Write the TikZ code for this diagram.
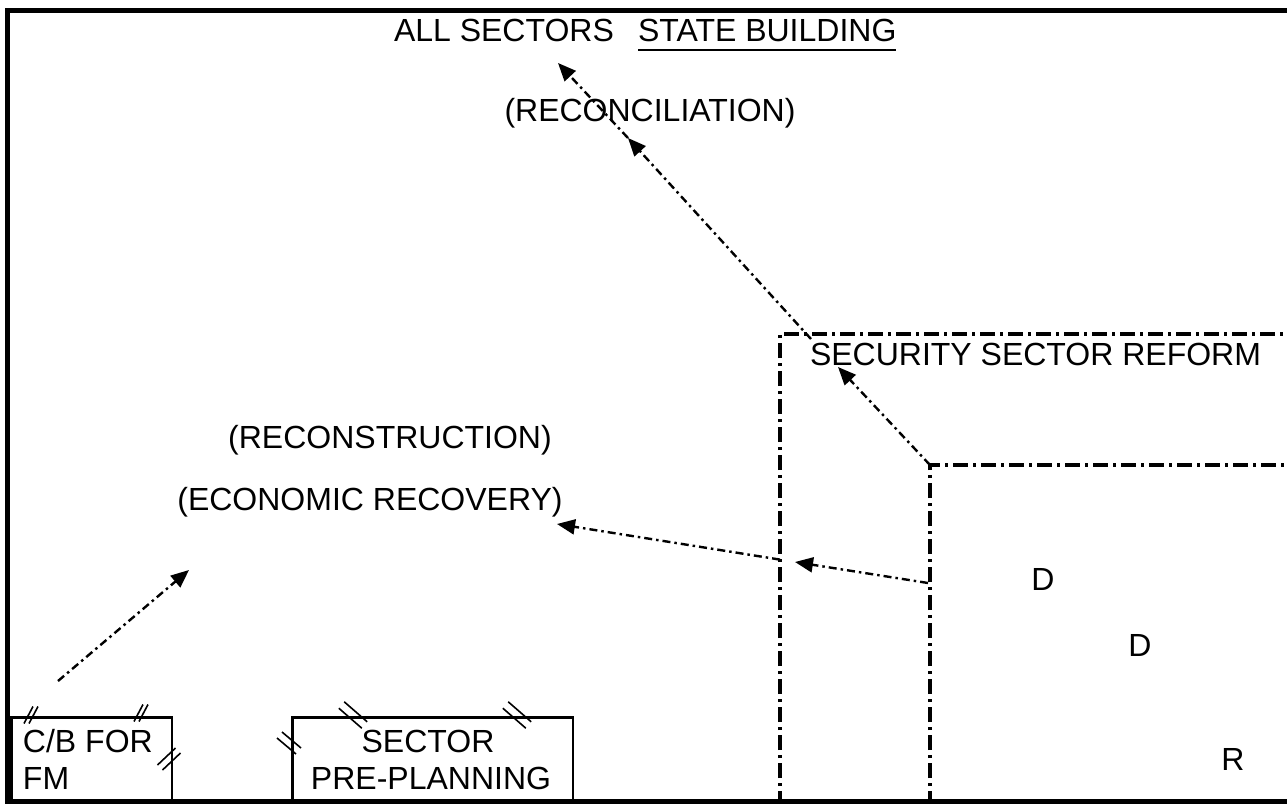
\documentclass[tikz,border=0pt]{standalone}
\usepackage{fontspec}
\setmainfont{Liberation Sans}
\usetikzlibrary{arrows.meta}
\tikzset{
  txt/.style={font=\fontsize{32}{38}\selectfont, inner sep=0pt, outer sep=0pt},
  frame/.style={line width=5pt},
  boxline/.style={draw, line width=2.5pt, inner sep=0pt},
  ssr/.style={line width=3.5pt, dash pattern=on 15pt off 5pt on 3pt off 5pt},
  flow/.style={line width=2.4pt, dash pattern=on 8pt off 4pt on 2.5pt off 4pt, -{Triangle[length=18pt,width=15pt]}},
  hashline/.style={line width=1.6pt},
}
\newcommand\hashmark[6]{%
  \draw[hashline] ({#1-#3-#5},{#2-#4-#6}) -- ({#1+#3-#5},{#2+#4-#6});
  \draw[hashline] ({#1-#3+#5},{#2-#4+#6}) -- ({#1+#3+#5},{#2+#4+#6});
}
\begin{document}
\begin{tikzpicture}[x=1pt,y=-1pt]
\useasboundingbox (0,0) rectangle (1287,803);
\fill[white] (0,0) rectangle (1287,803);
% outer frame
\draw[frame] (1295,10) -- (7.5,10) -- (7.5,801) -- (1295,801);

% title
\node[txt, anchor=base west] (all) at (394,41.5) {ALL SECTORS};
\node[txt, anchor=base west] (sb) at (638,41.5) {STATE BUILDING};
\draw[line width=2.5pt] ([yshift=-8.5pt]sb.base west) -- ([yshift=-8.5pt]sb.base east);

% labels
\node[txt, anchor=base] (recon) at (650,121) {(RECONCILIATION)};
\node[txt, anchor=base] (constr) at (390,448) {(RECONSTRUCTION)};
\node[txt, anchor=base] (econ) at (370,510) {(ECONOMIC RECOVERY)};
\node[txt, anchor=base west] (ssrt) at (810,365) {SECURITY SECTOR REFORM};
\node[txt, anchor=base] (d1) at (1043,590) {D};
\node[txt, anchor=base] (d2) at (1140,656) {D};
\node[txt, anchor=base] (r1) at (1233,770) {R};

% security sector reform outlines
\coordinate (oTL) at (780,334);
\coordinate (iTL) at (930,465);
\draw[ssr] (780,806) -- (oTL) -- (1295,334);
\draw[ssr] (930,806) -- (iTL) -- (1295,465);

% boxes
\node[boxline, minimum width=160.5pt, minimum height=86pt, anchor=north west] (b1) at (10,716) {};
\node[txt, anchor=base west] (b1a) at (23,752) {C/B FOR};
\node[txt, anchor=base west] (b1b) at (23,789) {FM};
\node[boxline, minimum width=280.5pt, minimum height=86pt, anchor=north west] (b2) at (291,716) {};
\node[txt, anchor=base] (b2a) at (428,752) {SECTOR};
\node[txt, anchor=base] (b2b) at (431,789) {PRE-PLANNING};

% hash marks
\hashmark{31}{715}{4.5}{-8.5}{2.5}{0}
\hashmark{141}{713}{4.5}{-8.5}{2.5}{0}
\hashmark{169}{759}{9}{-8.5}{2.5}{2.5}
\hashmark{289}{743}{9.5}{8}{2.5}{-3}
\hashmark{353}{715}{11.5}{10}{2.7}{-3.2}
\hashmark{517}{715}{11.5}{10}{2.7}{-3.2}

% arrows
\coordinate (a1s) at (58,681);
\coordinate (a1e) at (189,570);
\draw[flow] (a1s) -- (a1e);

\coordinate (a2s) at (928,583);
\coordinate (a2m) at (795,562);
\coordinate (a2n) at (780,559.6);
\coordinate (a2e) at (557,524);
\draw[flow] (a2s) -- (a2m);
\draw[flow] (a2n) -- (a2e);

\coordinate (a3m) at (838,367);
\coordinate (a3n) at (811,339);
\coordinate (a3k) at (628,138);
\coordinate (a3e) at (558,63);
\draw[flow] (iTL) -- (a3m);
\draw[flow] (a3n) -- (a3k);
\draw[flow] (a3k) -- (a3e);
\end{tikzpicture}
\end{document}
